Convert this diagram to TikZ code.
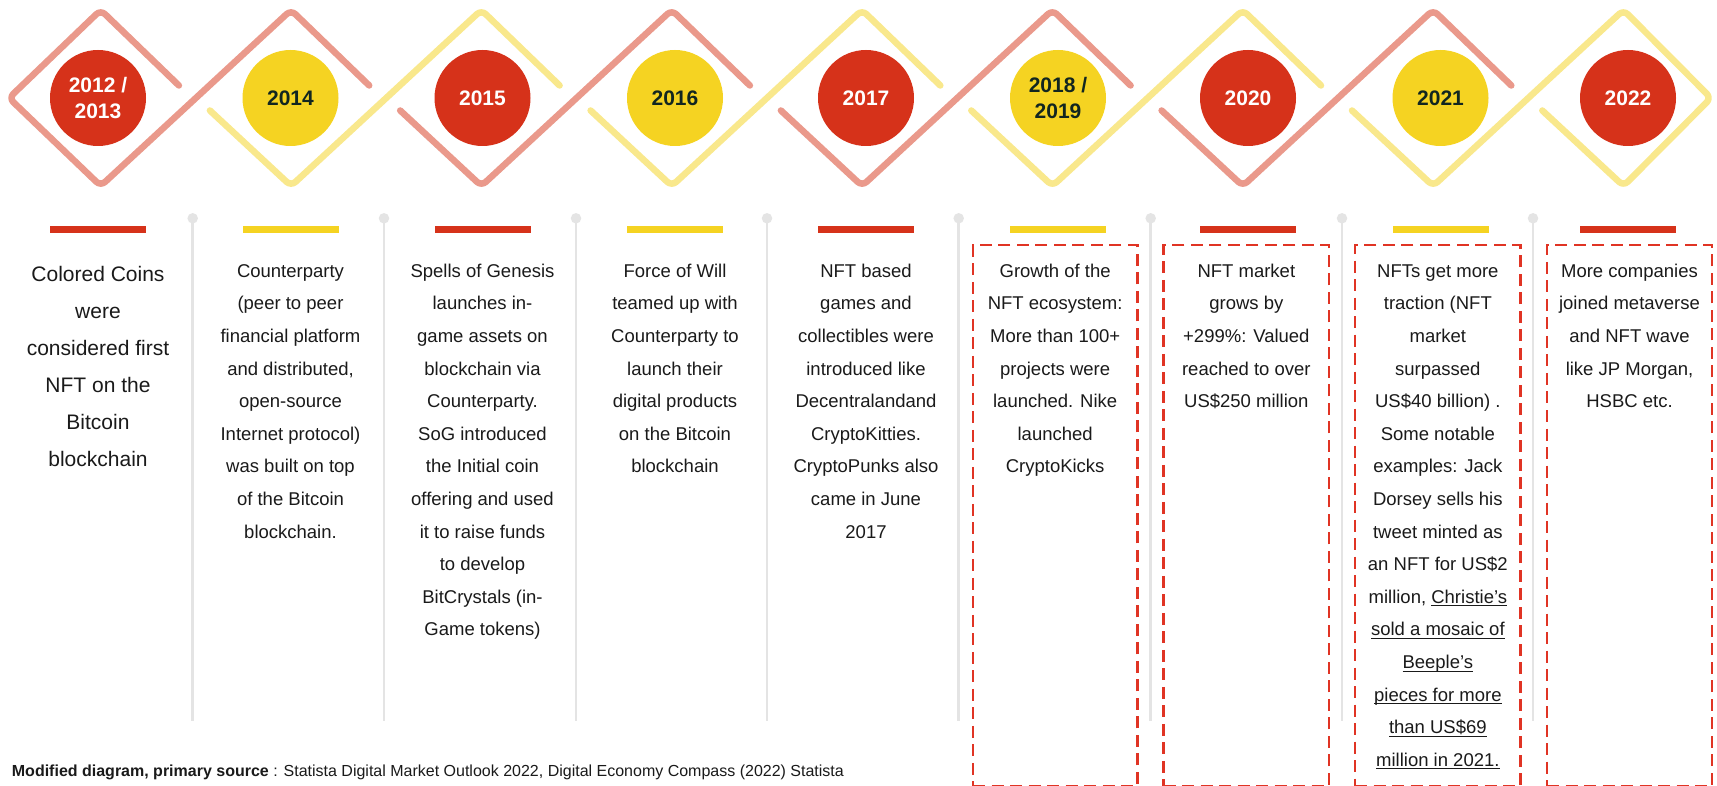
\documentclass[tikz,border=0pt]{standalone}
\usepackage{fontspec}
\setmainfont{Liberation Sans}
\definecolor{pinkz}{RGB}{234,153,139}
\definecolor{yelz}{RGB}{249,232,140}
\definecolor{redc}{RGB}{214,50,26}
\definecolor{yelc}{RGB}{245,211,34}
\definecolor{boxred}{RGB}{224,52,36}
\definecolor{greyc}{RGB}{228,228,228}
\definecolor{txtc}{RGB}{26,26,26}
\definecolor{yeartxt}{RGB}{18,38,32}
\newcommand\myul[1]{\setbox0\hbox{#1}\rlap{\rule[-3pt]{\wd0}{1pt}}\box0}
\newcommand\txtcol[5]{%
  \foreach \tline [count=\k from 0] in {#5} {
    \node[#1] (#2-\k) at ({#3},{#4+\k*(\csname lsp#1\endcsname)}) {\tline};
  }%
}
\def\lspbodytxt{32.6}
\def\lspbigtxt{37}
\begin{document}
\begin{tikzpicture}[x=1pt,y=-1pt,
  zz/.style={line width=6.5pt, line cap=round, line join=round, rounded corners=6pt},
  yearbase/.style={circle, minimum size=96pt, inner sep=0pt, align=center,
    font=\bfseries\fontsize{21}{25.7}\selectfont},
  yearred/.style={yearbase, fill=redc, text=white},
  yearyel/.style={yearbase, fill=yelc, text=yeartxt},
  barbase/.style={rectangle, minimum width=96pt, minimum height=7.3pt, inner sep=0pt},
  dot/.style={circle, fill=greyc, minimum size=10.5pt, inner sep=0pt},
  greyl/.style={draw=greyc, line width=2.5pt},
  dbox/.style={draw=boxred, line width=2.7pt, dash pattern=on 12pt off 6.5pt, rectangle, inner sep=0pt},
  bodytxt/.style={anchor=base, inner sep=0pt, text=txtc, font=\fontsize{18.5}{22}\selectfont},
  bigtxt/.style={anchor=base, inner sep=0pt, text=txtc, font=\fontsize{21}{25}\selectfont},
]
\useasboundingbox (0,0) rectangle (1717,786);
\fill[white] (0,0) rectangle (1717,786);

% zigzag ribbons
\draw[zz, draw=pinkz] (178.9,85.5) -- (100.7,10) -- (9,98) -- (100.7,186) -- (291.05,10) -- (369.2,85.5);
\draw[zz, draw=yelz]  (209.9,110.5) -- (291.05,186) -- (481.4,10) -- (559.6,85.5);
\draw[zz, draw=pinkz] (400.2,110.5) -- (481.4,186) -- (671.75,10) -- (749.9,85.5);
\draw[zz, draw=yelz]  (590.6,110.5) -- (671.75,186) -- (862.1,10) -- (940.3,85.5);
\draw[zz, draw=pinkz] (780.9,110.5) -- (862.1,186) -- (1052.45,10) -- (1130.6,85.5);
\draw[zz, draw=yelz]  (971.3,110.5) -- (1052.45,186) -- (1242.8,10) -- (1321.0,85.5);
\draw[zz, draw=pinkz] (1161.6,110.5) -- (1242.8,186) -- (1433.15,10) -- (1511.3,85.5);
\draw[zz, draw=yelz]  (1352.0,110.5) -- (1433.15,186) -- (1623.5,10) -- (1711,98) -- (1623.5,186) -- (1542.3,110.5);

% year circles
\node[yearred] (y1) at (98,98) {2012 /\\2013};
\node[yearyel] (y2) at (290.5,98) {2014};
\node[yearred] (y3) at (482.5,98) {2015};
\node[yearyel] (y4) at (675,98) {2016};
\node[yearred] (y5) at (866,98) {2017};
\node[yearyel] (y6) at (1058,98) {2018 /\\2019};
\node[yearred] (y7) at (1248,98) {2020};
\node[yearyel] (y8) at (1440.5,98) {2021};
\node[yearred] (y9) at (1628,98) {2022};

% grey separators
\foreach \xx [count=\i] in {192.7,384,576,767,958.7,1150.7,1342,1533} {
  \coordinate (gb\i) at (\xx,721);
  \node[dot] (gd\i) at (\xx,218.3) {};
  \draw[greyl] (gd\i.center) -- (gb\i);
}

% colour bars
\node[barbase, fill=redc] (b1) at (98,229.7) {};
\node[barbase, fill=yelc] (b2) at (290.5,229.7) {};
\node[barbase, fill=redc] (b3) at (482.5,229.7) {};
\node[barbase, fill=yelc] (b4) at (675,229.7) {};
\node[barbase, fill=redc] (b5) at (866,229.7) {};
\node[barbase, fill=yelc] (b6) at (1058,229.7) {};
\node[barbase, fill=redc] (b7) at (1248,229.7) {};
\node[barbase, fill=yelc] (b8) at (1440.5,229.7) {};
\node[barbase, fill=redc] (b9) at (1628,229.7) {};

% dashed boxes
\node[dbox, minimum width=164.3pt, minimum height=541pt] (bx6) at (1055.15,515.5) {};
\node[dbox, minimum width=165.3pt, minimum height=541pt] (bx7) at (1246.35,515.5) {};
\node[dbox, minimum width=165.7pt, minimum height=541pt] (bx8) at (1437.85,515.5) {};
\node[dbox, minimum width=165pt, minimum height=541pt] (bx9) at (1629.5,515.5) {};

% texts
\txtcol{bigtxt}{t1}{98}{281.7}{Colored Coins,were,considered first,NFT on the,Bitcoin,blockchain}
\txtcol{bodytxt}{t2}{290.5}{277.3}{Counterparty,{(peer to peer},financial platform,{and distributed,},open-source,{Internet protocol)},was built on top,of the Bitcoin,blockchain.}
\txtcol{bodytxt}{t3}{482.5}{277.3}{Spells of Genesis,launches in-,game assets on,blockchain via,Counterparty.,SoG introduced,the Initial coin,offering and used,it to raise funds,to develop,{BitCrystals (in-},{Game tokens)}}
\txtcol{bodytxt}{t4}{675}{277.3}{Force of Will,teamed up with,Counterparty to,launch their,digital products,on the Bitcoin,blockchain}
\txtcol{bodytxt}{t5}{866}{277.3}{NFT based,games and,collectibles were,introduced like,Decentralandand,CryptoKitties.,CryptoPunks also,came in June,2017}
\txtcol{bodytxt}{t6}{1055.15}{277.3}{Growth of the,NFT ecosystem:,More than 100+,projects were,launched. Nike,launched,CryptoKicks}
\txtcol{bodytxt}{t7}{1246.35}{277.3}{NFT market,grows by,+299\%: Valued,reached to over,US\$250 million}
\txtcol{bodytxt}{t8}{1437.85}{277.3}{NFTs get more,{traction (NFT},market,surpassed,{US\$40 billion) .},Some notable,examples: Jack,Dorsey sells his,tweet minted as,an NFT for US\$2,{million, \myul{Christie’s}},\myul{sold a mosaic of},\myul{Beeple’s},\myul{pieces for more},\myul{than US\$69},\myul{million in 2021.}}
\txtcol{bodytxt}{t9}{1629.5}{277.3}{More companies,joined metaverse,and NFT wave,{like JP Morgan,},HSBC etc.}

% footer
\node[anchor=base west, inner sep=0pt, text=txtc, font=\fontsize{16}{19}\selectfont] (foot) at (11.7,776)
  {\textbf{Modified diagram, primary source} : Statista Digital Market Outlook 2022, Digital Economy Compass (2022) Statista};
\end{tikzpicture}
\end{document}
